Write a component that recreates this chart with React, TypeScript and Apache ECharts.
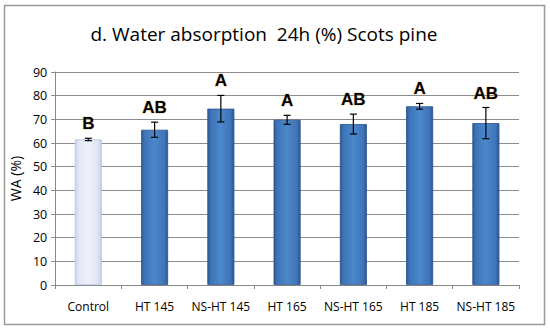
import React, { useEffect, useRef } from "react";
import * as echarts from "echarts";

const categories = ["Control", "HT 145", "NS-HT 145", "HT 165", "NS-HT 165", "HT 185", "NS-HT 185"];
const means = [61.5, 65.6, 74.5, 69.8, 68.0, 75.5, 68.4];
const errors = [0.5, 3.2, 5.6, 1.9, 4.2, 1.2, 6.6];
const groups = ["B", "AB", "A", "A", "AB", "A", "AB"];
const yTicks = { min: 0, max: 90, interval: 10 };

export default function App() {
  const ref = useRef<HTMLDivElement>(null);
  useEffect(() => {
    const chart = echarts.init(ref.current!, null, { renderer: "svg" });
    const blueGrad = new echarts.graphic.LinearGradient(0, 0, 1, 0, [
      { offset: 0, color: "#2d5a94" },
      { offset: 0.12, color: "#3e74b7" },
      { offset: 0.5, color: "#4c87cc" },
      { offset: 0.88, color: "#3e74b7" },
      { offset: 1, color: "#2a5590" },
    ]);
    const paleGrad = new echarts.graphic.LinearGradient(0, 0, 1, 0, [
      { offset: 0, color: "#c9d3ee" },
      { offset: 0.15, color: "#e3e8f7" },
      { offset: 0.5, color: "#eef0fa" },
      { offset: 0.85, color: "#dfe5f6" },
      { offset: 1, color: "#c4cfec" },
    ]);
    chart.setOption({
      animation: false,
      backgroundColor: "#ffffff",
      title: {
        text: "d. Water absorption  24h (%) Scots pine",
        left: 259,
        textAlign: "center",
        top: 19,
        textStyle: { fontFamily: "Open Sans", fontWeight: "normal", fontSize: 19, color: "#000" },
      },
      graphic: [
        {
          type: "rect",
          shape: { x: 4.5, y: 5.5, width: 540, height: 319 },
          style: { fill: "none", stroke: "#9a9a9a", lineWidth: 1.5 },
          silent: true,
        },
      ],
      grid: { left: 55, right: 31, top: 72, bottom: 47 },
      xAxis: {
        type: "category",
        data: categories,
        axisLine: { show: true, lineStyle: { color: "#888" } },
        axisTick: { show: true, alignWithLabel: false, length: 4, lineStyle: { color: "#888" } },
        axisLabel: { color: "#000", fontSize: 12, fontFamily: "Open Sans", margin: 15, interval: 0 },
      },
      yAxis: {
        type: "value",
        min: yTicks.min,
        max: yTicks.max,
        interval: yTicks.interval,
        name: "WA (%)",
        nameLocation: "middle",
        nameGap: 23,
        nameTextStyle: { color: "#000", fontSize: 14, fontFamily: "Open Sans" },
        axisLine: { show: true, lineStyle: { color: "#888" } },
        axisTick: { show: true, length: 4, lineStyle: { color: "#888" } },
        axisLabel: { color: "#000", fontSize: 12.5, fontFamily: "Open Sans", margin: 8 },
        splitLine: { lineStyle: { color: "#8c8c8c", width: 1 } },
      },
      series: [
        {
          type: "bar",
          barWidth: 27,
          data: means.map((v, i) => ({
            value: v,
            itemStyle: {
              color: i === 0 ? paleGrad : blueGrad,
              borderColor: i === 0 ? "#b7c3e3" : "#2a5288",
              borderWidth: 0.8,
            },
          })),
        },
        {
          type: "custom",
          data: means.map((m, i) => [i, m, errors[i], groups[i]]),
          z: 10,
          renderItem: (params: any, api: any) => {
            const i = api.value(0);
            const m = api.value(1);
            const e = api.value(2);
            const top = api.coord([i, m + e]);
            const bot = api.coord([i, m - e]);
            const x = top[0];
            const w = 3.5;
            const style = { stroke: "#000", lineWidth: 1.2 };
            return {
              type: "group",
              children: [
                { type: "line", shape: { x1: x, y1: top[1], x2: x, y2: bot[1] }, style },
                { type: "line", shape: { x1: x - w, y1: top[1], x2: x + w, y2: top[1] }, style },
                { type: "line", shape: { x1: x - w, y1: bot[1], x2: x + w, y2: bot[1] }, style },
                {
                  type: "text",
                  x: x,
                  y: top[1] - 6,
                  style: {
                    text: groups[i],
                    textAlign: "center",
                    textVerticalAlign: "bottom",
                    fontFamily: "Liberation Sans",
                    fontWeight: "bold",
                    fontSize: 17,
                    fill: "#000",
                    stroke: "rgba(240,170,90,0.35)",
                    lineWidth: 1.5,
                  },
                },
              ],
            };
          },
        },
      ],
    });
    return () => chart.dispose();
  }, []);
  return (
    <div
      ref={ref}
      style={{ position: "absolute", left: 0, top: 0, width: 550, height: 332 }}
    />
  );
}
